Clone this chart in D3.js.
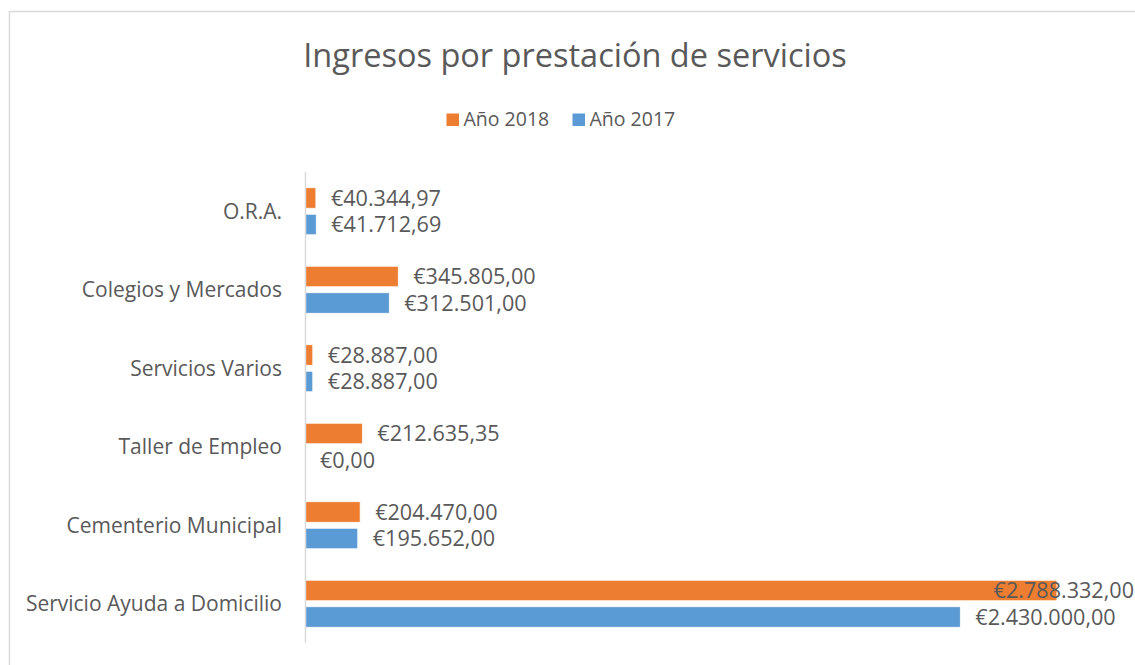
<!DOCTYPE html>
<html>
<head>
<meta charset="utf-8">
<script src="https://cdn.jsdelivr.net/npm/d3@7"></script>
<style>
  body { margin: 0; background: #fff; }
  text { font-family: "Open Sans", "Noto Sans", sans-serif; fill: #595959; }
</style>
</head>
<body>
<svg id="chart" width="1135" height="665"></svg>
<script>
// data
const categories = ["O.R.A.", "Colegios y Mercados", "Servicios Varios", "Taller de Empleo", "Cementerio Municipal", "Servicio Ayuda a Domicilio"];
const series = ["Año 2018", "Año 2017"];
const values2018 = [40344.97, 345805.00, 28887.00, 212635.35, 204470.00, 2788332.00];
const values2017 = [41712.69, 312501.00, 28887.00, 0.00, 195652.00, 2430000.00];
const seriesColors = ["#ED7D31", "#5B9BD5"];

const W = 1135, H = 665;
const svg = d3.select("#chart");

// chart frame
svg.append("rect")
    .attr("x", 9.5).attr("y", 11.5)
    .attr("width", 1140).attr("height", 670)
    .attr("fill", "none")
    .attr("stroke", "#D9D9D9")
    .attr("stroke-width", 1.5);

svg.append("text")
    .attr("x", 575).attr("y", 67)
    .attr("text-anchor", "middle")
    .attr("font-size", 32.5)
    .text("Ingresos por prestación de servicios");

const x = d3.scaleLinear().domain([0, 3000000]).range([305, 1114]);
const y = d3.scaleBand().domain(categories).range([172, 643]);
const y1 = d3.scaleBand().domain(series)
    .range([0, y.bandwidth()])
    .paddingInner(0.226)
    .paddingOuter(0.594);

const rows = categories.map((c, i) => ({
    cat: c,
    vals: [values2018[i], values2017[i]]
}));

const euro = d => {
    const parts = d.toFixed(2).split(".");
    return "€" + parts[0].replace(/\B(?=(\d{3})+(?!\d))/g, ".") + "," + parts[1];
};

// legend
const legend = svg.append("g").attr("class", "legend");
const legendX = [446.5, 572.5];
series.forEach((s, i) => {
    legend.append("rect")
        .attr("x", legendX[i]).attr("y", 113.5)
        .attr("width", 12.5).attr("height", 12.5)
        .attr("fill", seriesColors[i]);
    legend.append("text")
        .attr("x", legendX[i] + 17).attr("y", 126)
        .attr("font-size", 19.5)
        .text(s);
});

// category labels
svg.append("g").selectAll("text")
    .data(categories)
    .enter().append("text")
    .attr("x", 282)
    .attr("y", d => y(d) + y.bandwidth() / 2)
    .attr("dy", "0.35em")
    .attr("text-anchor", "end")
    .attr("font-size", 21)
    .text(d => d);

// bars
const groups = svg.append("g").selectAll("g")
    .data(rows)
    .enter().append("g")
    .attr("transform", d => `translate(0,${y(d.cat)})`);

const items = d => d.vals.map((v, i) => ({ v: v, s: series[i], i: i }));

groups.selectAll("rect")
    .data(items)
    .enter().append("rect")
    .attr("x", x(0))
    .attr("y", d => y1(d.s))
    .attr("width", d => x(d.v) - x(0))
    .attr("height", y1.bandwidth())
    .attr("fill", d => seriesColors[d.i])
    .attr("stroke", d => d.v > 0 ? "#fff" : "none")
    .attr("stroke-width", 0.75);

// value labels
groups.selectAll("text")
    .data(items)
    .enter().append("text")
    .attr("y", d => y1(d.s) + y1.bandwidth() / 2)
    .attr("dy", "0.35em")
    .attr("font-size", 21.6)
    .text(d => euro(d.v))
    .each(function(d) {
        const w = this.getComputedTextLength();
        const px = Math.min(x(d.v) + 15, 1134 - w);
        d3.select(this).attr("x", px);
    });

// vertical axis line
svg.append("line")
    .attr("x1", 305.5).attr("x2", 305.5)
    .attr("y1", 172).attr("y2", 643)
    .attr("stroke", "#D9D9D9")
    .attr("stroke-width", 1.5);
</script>
</body>
</html>
